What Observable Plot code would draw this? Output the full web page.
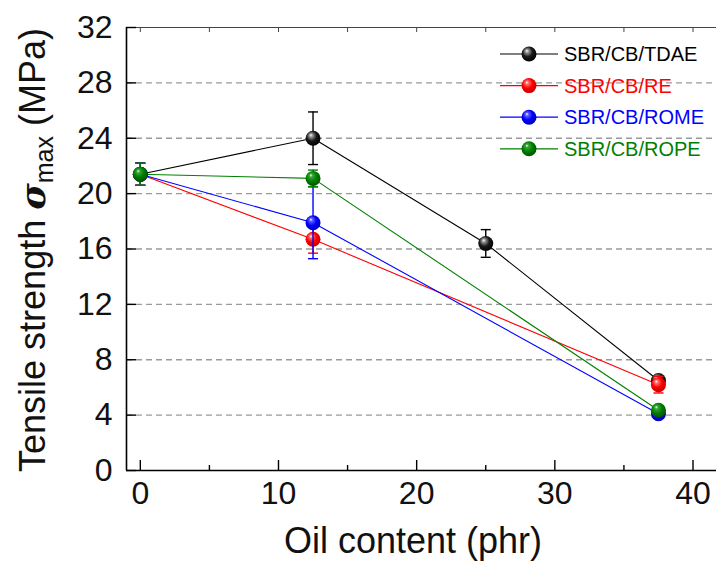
<!DOCTYPE html>
<html>
<head>
<meta charset="utf-8">
<script src="https://cdn.jsdelivr.net/npm/d3@7"></script>
<script src="https://cdn.jsdelivr.net/npm/@observablehq/plot@0.6"></script>
<style>
  body { margin: 0; background: #fff; }
  #chart svg { display: block; }
</style>
</head>
<body>
<div id="chart"></div>
<script>
// Tensile strength vs. oil content for four SBR/CB compounds (mean ± error)
const seriesNames  = ["SBR/CB/TDAE", "SBR/CB/RE", "SBR/CB/ROME", "SBR/CB/ROPE"];
const seriesColors = ["#000000", "#ff0000", "#0000ff", "#008000"];

const tdaeOil = [0, 12.5, 25, 37.5];
const tdaeStrength = [21.4, 24.0, 16.4, 6.5];
const tdaeError = [0.8, 1.9, 1.0, 0.3];

const reOil = [0, 12.5, 37.5];
const reStrength = [21.4, 16.7, 6.2];
const reError = [0.8, 1.0, 0.6];

const romeOil = [0, 12.5, 37.5];
const romeStrength = [21.4, 17.9, 4.1];
const romeError = [0.8, 2.6, 0.2];

const ropeOil = [0, 12.5, 37.5];
const ropeStrength = [21.4, 21.1, 4.35];
const ropeError = [0.8, 0.6, 0.2];

const xMajorTicks = [0, 10, 20, 30, 40];
const xMinorTicks = [5, 15, 25, 35];
const xTopTicks = [0, 5, 10, 15, 20, 25, 30, 35, 40];
const yTicks = [0, 4, 8, 12, 16, 20, 24, 28, 32];
const yGridTicks = [4, 8, 12, 16, 20, 24, 28];

const xDomain = [-1, 41.7];
const yDomain = [0, 32];

const xTitle = "Oil content (phr)";

// one table per series
const seriesData = [
  [tdaeOil, tdaeStrength, tdaeError],
  [reOil, reStrength, reError],
  [romeOil, romeStrength, romeError],
  [ropeOil, ropeStrength, ropeError]
].map(([xs, ys, es], s) => xs.map((x, i) => ({series: seriesNames[s], x, y: ys[i], err: es[i]})));

const FONT = "'Liberation Sans', Arial, sans-serif";

// short horizontal stroke used for error-bar caps
const capSymbol = {
  draw(context, size) {
    const r = Math.sqrt(size / Math.PI);
    context.moveTo(-r, 0);
    context.lineTo(r, 0);
  }
};

const marks = [
  Plot.gridY(yGridTicks, {stroke: "#9a9a9a", strokeOpacity: 1, strokeWidth: 1.3, strokeDasharray: "6,4"}),
  // frame: left, bottom (black) and top (grey)
  Plot.ruleY([yDomain[1]], {stroke: "#444", strokeWidth: 1}),
  Plot.ruleX([xDomain[0]], {stroke: "#000", strokeWidth: 1.6}),
  Plot.ruleY([yDomain[0]], {stroke: "#000", strokeWidth: 1.6}),
  // inward ticks
  Plot.axisX({anchor: "bottom", ticks: xMajorTicks, tickSize: -10, tickFormat: () => "", label: null, strokeWidth: 1.4}),
  Plot.axisX({anchor: "bottom", ticks: xMinorTicks, tickSize: -5, tickFormat: () => "", label: null, strokeWidth: 1.4}),
  Plot.axisX({anchor: "top", ticks: xTopTicks, tickSize: -4, tickFormat: () => "", label: null, stroke: "#444"}),
  Plot.axisY({anchor: "left", ticks: yTicks, tickSize: -10, tickFormat: () => "", label: null, strokeWidth: 1.4}),
  // tick labels
  Plot.axisX({anchor: "bottom", ticks: xMajorTicks, tickSize: 0, tickPadding: 11, label: null, fontSize: 32, fill: "#111"}),
  Plot.axisY({anchor: "left", ticks: yTicks, tickSize: 0, tickPadding: 14, label: null, fontSize: 32, fill: "#111"})
];

// connecting lines under everything else
seriesData.forEach((rows, s) => {
  marks.push(Plot.line(rows, {x: "x", y: "y", stroke: seriesColors[s], strokeWidth: 1.1}));
});

// error bars and shaded balls, series by series
seriesData.forEach((rows, s) => {
  const caps = rows.flatMap(d => [{x: d.x, y: d.y - d.err}, {x: d.x, y: d.y + d.err}]);
  marks.push(
    Plot.ruleX(rows, {x: "x", y1: d => d.y - d.err, y2: d => d.y + d.err, stroke: seriesColors[s], strokeWidth: 1.4}),
    Plot.dot(caps, {x: "x", y: "y", symbol: capSymbol, r: 5, stroke: seriesColors[s], strokeWidth: 1.4, fill: "none"}),
    Plot.dot(rows, {x: "x", y: "y", r: 7.5, fill: `url(#ball-${s})`, stroke: "none"})
  );
});

const chart = Plot.plot({
  width: 716,
  height: 563,
  marginLeft: 126,
  marginRight: 0,
  marginTop: 27,
  marginBottom: 93,
  x: {domain: xDomain, label: null},
  y: {domain: yDomain, label: null},
  style: {fontFamily: FONT, background: "#fff", color: "#000", overflow: "visible"},
  marks
});

document.getElementById("chart").append(chart);

const svg = d3.select(chart);

// radial gradients for the shaded ball markers
const defs = svg.insert("defs", ":first-child");
const shades = [
  ["#ffffff", "#9a9a9a", "#1a1a1a", "#000000"],
  ["#ffffff", "#ff7070", "#ff0000", "#c00000"],
  ["#ffffff", "#6060ff", "#0000ff", "#0000b0"],
  ["#ffffff", "#3aa63a", "#008000", "#005000"]
];
shades.forEach((stops, s) => {
  const g = defs.append("radialGradient")
    .attr("id", `ball-${s}`)
    .attr("cx", "45%").attr("cy", "42%").attr("r", "60%")
    .attr("fx", "35%").attr("fy", "28%");
  [[0, stops[0]], [0.18, stops[1]], [0.55, stops[2]], [1, stops[3]]].forEach(([o, c]) => {
    g.append("stop").attr("offset", o).attr("stop-color", c);
  });
});

// axis titles
svg.append("text")
  .attr("x", 413).attr("y", 553)
  .attr("text-anchor", "middle")
  .attr("font-size", 36)
  .attr("fill", "#111")
  .text(xTitle);

const yTitle = svg.append("text")
  .attr("transform", "translate(45,250) rotate(-90)")
  .attr("text-anchor", "middle")
  .attr("font-size", 36)
  .attr("fill", "#111");
yTitle.append("tspan").text("Tensile strength ");
yTitle.append("tspan").attr("font-family", "'DejaVu Serif', serif").attr("font-style", "italic").attr("font-weight", "bold").attr("font-size", 36).text("σ");
yTitle.append("tspan").attr("font-size", 25).attr("dy", 8).text("max");
yTitle.append("tspan").attr("dy", -8).text(" (MPa)");

// legend in the upper-right corner of the plot area
const legend = svg.append("g").attr("font-size", 20).attr("text-anchor", "start");
seriesNames.forEach((name, s) => {
  const cy = 54 + s * 31.6;
  legend.append("line")
    .attr("x1", 500).attr("x2", 558).attr("y1", cy).attr("y2", cy)
    .attr("stroke", seriesColors[s]).attr("stroke-width", 1.2);
  legend.append("circle")
    .attr("cx", 529).attr("cy", cy).attr("r", 7.5)
    .attr("fill", `url(#ball-${s})`);
  legend.append("text")
    .attr("x", 564).attr("y", cy + 7)
    .attr("fill", seriesColors[s])
    .text(name);
});
</script>
</body>
</html>
